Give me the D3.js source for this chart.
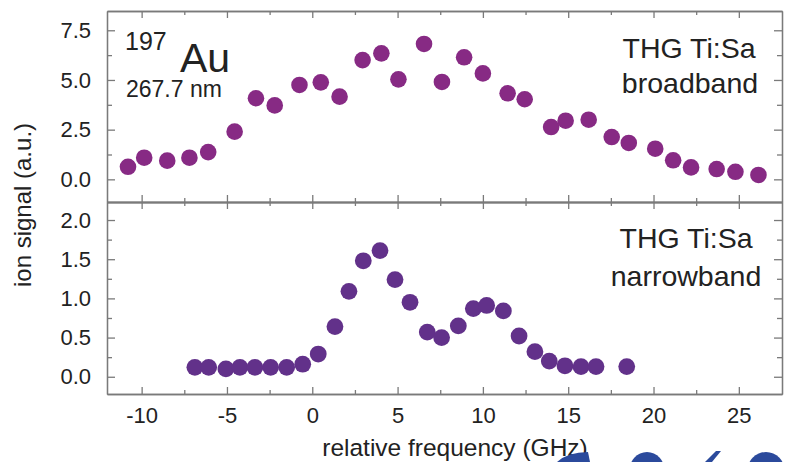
<!DOCTYPE html>
<html>
<head>
<meta charset="utf-8">
<script src="https://cdn.jsdelivr.net/npm/d3@7"></script>
<style>
  body { margin: 0; background: #fff; }
  svg { display: block; font-family: 'Liberation Sans', Arial, sans-serif; }
  .axis path, .axis line { stroke: #7a7a7a; stroke-width: 1.3; }
  .axis text { fill: #222; }
</style>
</head>
<body>
<svg width="788" height="462"></svg>
<script>
// broadband scan (upper panel)
const broadFreq = [-10.8, -9.85, -8.5, -7.2, -6.1, -4.55, -3.3, -2.2, -0.75, 0.5, 1.6, 2.95, 4.05, 5.05,
  6.55, 7.6, 8.9, 10.0, 11.45, 12.45, 14.0, 14.85, 16.2, 17.55, 18.55, 20.1, 21.15, 22.2, 23.7, 24.8, 26.15];
const broadSignal = [0.63, 1.09, 0.94, 1.09, 1.37, 2.4, 4.08, 3.72, 4.75, 4.88, 4.16, 6.0, 6.34, 5.03,
  6.81, 4.9, 6.14, 5.33, 4.33, 4.03, 2.63, 2.95, 3.0, 2.13, 1.83, 1.54, 0.96, 0.6, 0.52, 0.38, 0.22];

// narrowband scan (lower panel)
const narrowFreq = [-6.88, -6.07, -5.06, -4.24, -3.36, -2.44, -1.5, -0.56, 0.35, 1.33, 2.15, 2.99, 3.97, 4.85,
  5.73, 6.74, 7.58, 8.56, 9.44, 10.22, 11.2, 12.12, 13.05, 13.89, 14.81, 15.75, 16.63, 18.43];
const narrowSignal = [0.12, 0.12, 0.1, 0.12, 0.12, 0.12, 0.12, 0.16, 0.29, 0.64, 1.09, 1.48, 1.61, 1.24,
  0.95, 0.57, 0.5, 0.65, 0.87, 0.91, 0.84, 0.52, 0.32, 0.2, 0.14, 0.13, 0.13, 0.13];

const xTicks = [-10, -5, 0, 5, 10, 15, 20, 25];
const xMinor = [-7.5, -2.5, 2.5, 7.5, 12.5, 17.5, 22.5];
const topTicks = [0, 2.5, 5, 7.5];
const topMinor = [1.25, 3.75, 6.25];
const botTicks = [0, 0.5, 1, 1.5, 2];
const botMinor = [0.25, 0.75, 1.25, 1.75];

const padL = 107, padR = 782, padT = 11, midY = 202, padB = 394;

const svg = d3.select('svg');

const x = d3.scaleLinear().domain([-12.03, 27.53]).range([padL, padR]);
const yTop = d3.scaleLinear().domain([-1.14, 8.47]).range([midY, padT]);
const yBot = d3.scaleLinear().domain([-0.22, 2.23]).range([padB, midY]);

// plain hyphen for negatives, like the original figure
const fmtX = d => String(d);
const fmtY = d => d.toFixed(1);

// draws the four framed sides of one panel, ticks pointing inward
function frame(y, y0, y1, major, minor, showX) {
  const g = svg.append('g');
  const addAxis = (gen, tx) => g.append('g').attr('class', 'axis').attr('transform', tx).call(gen);

  addAxis(d3.axisLeft(y).tickValues(major).tickSize(-8).tickSizeOuter(0).tickPadding(16).tickFormat(fmtY),
    `translate(${padL},0)`);
  addAxis(d3.axisLeft(y).tickValues(minor).tickSize(-5).tickSizeOuter(0).tickFormat(''), `translate(${padL},0)`);
  addAxis(d3.axisRight(y).tickValues(major).tickSize(-8).tickSizeOuter(0).tickFormat(''), `translate(${padR},0)`);
  addAxis(d3.axisRight(y).tickValues(minor).tickSize(-5).tickSizeOuter(0).tickFormat(''), `translate(${padR},0)`);

  addAxis(d3.axisTop(x).tickValues(xTicks).tickSize(-7).tickSizeOuter(0).tickFormat(''), `translate(0,${y1})`);
  addAxis(d3.axisTop(x).tickValues(xMinor).tickSize(-4).tickSizeOuter(0).tickFormat(''), `translate(0,${y1})`);
  addAxis(d3.axisBottom(x).tickValues(xTicks).tickSize(-7).tickSizeOuter(0).tickPadding(13)
    .tickFormat(showX ? fmtX : ''), `translate(0,${y0})`);
  addAxis(d3.axisBottom(x).tickValues(xMinor).tickSize(-4).tickSizeOuter(0).tickFormat(''), `translate(0,${y0})`);
  g.selectAll('.axis text').attr('font-size', null).style('font-size', '22px');
  return g;
}

frame(yTop, midY, padT, topTicks, topMinor, false);
frame(yBot, padB, midY, botTicks, botMinor, true);

svg.append('g').selectAll('circle')
  .data(d3.zip(broadFreq, broadSignal))
  .join('circle')
  .attr('cx', d => x(d[0]))
  .attr('cy', d => yTop(d[1]))
  .attr('r', 8.3)
  .attr('fill', '#872a84');

svg.append('g').selectAll('circle')
  .data(d3.zip(narrowFreq, narrowSignal))
  .join('circle')
  .attr('cx', d => x(d[0]))
  .attr('cy', d => yBot(d[1]))
  .attr('r', 8.4)
  .attr('fill', '#62318a');

// labels
const label = (txt, px, py, size, anchor) => svg.append('text')
  .attr('x', px).attr('y', py)
  .attr('text-anchor', anchor || 'start')
  .style('font-size', size + 'px')
  .attr('fill', '#222')
  .text(txt);

label('197', 125, 50, 25);
label('Au', 180, 71.5, 41);
label('267.7 nm', 126, 96.5, 23);
label('THG Ti:Sa', 689, 58, 28.5, 'middle');
label('broadband', 690, 93, 28.5, 'middle');
label('THG Ti:Sa', 686, 248, 28.5, 'middle');
label('narrowband', 686, 286, 28.5, 'middle');

label('relative frequency (GHz)', 455, 456, 24.5, 'middle');
svg.append('text')
  .attr('transform', 'translate(31,205) rotate(-90)')
  .attr('text-anchor', 'middle')
  .style('font-size', '24px')
  .attr('fill', '#222')
  .text('ion signal (a.u.)');

// partially visible blue lettering along the bottom edge
const blue = svg.append('g').attr('fill', '#2b4a9c');
blue.append('path').attr('d', 'M557,462 Q568,452 588,452 L590,462 Z');
blue.append('ellipse').attr('cx', 647).attr('cy', 472).attr('rx', 18).attr('ry', 20);
blue.append('path').attr('d', 'M716,451 L721,451 L712,462 L705,462 Z');
blue.append('ellipse').attr('cx', 766).attr('cy', 472).attr('rx', 19).attr('ry', 20);
</script>
</body>
</html>
